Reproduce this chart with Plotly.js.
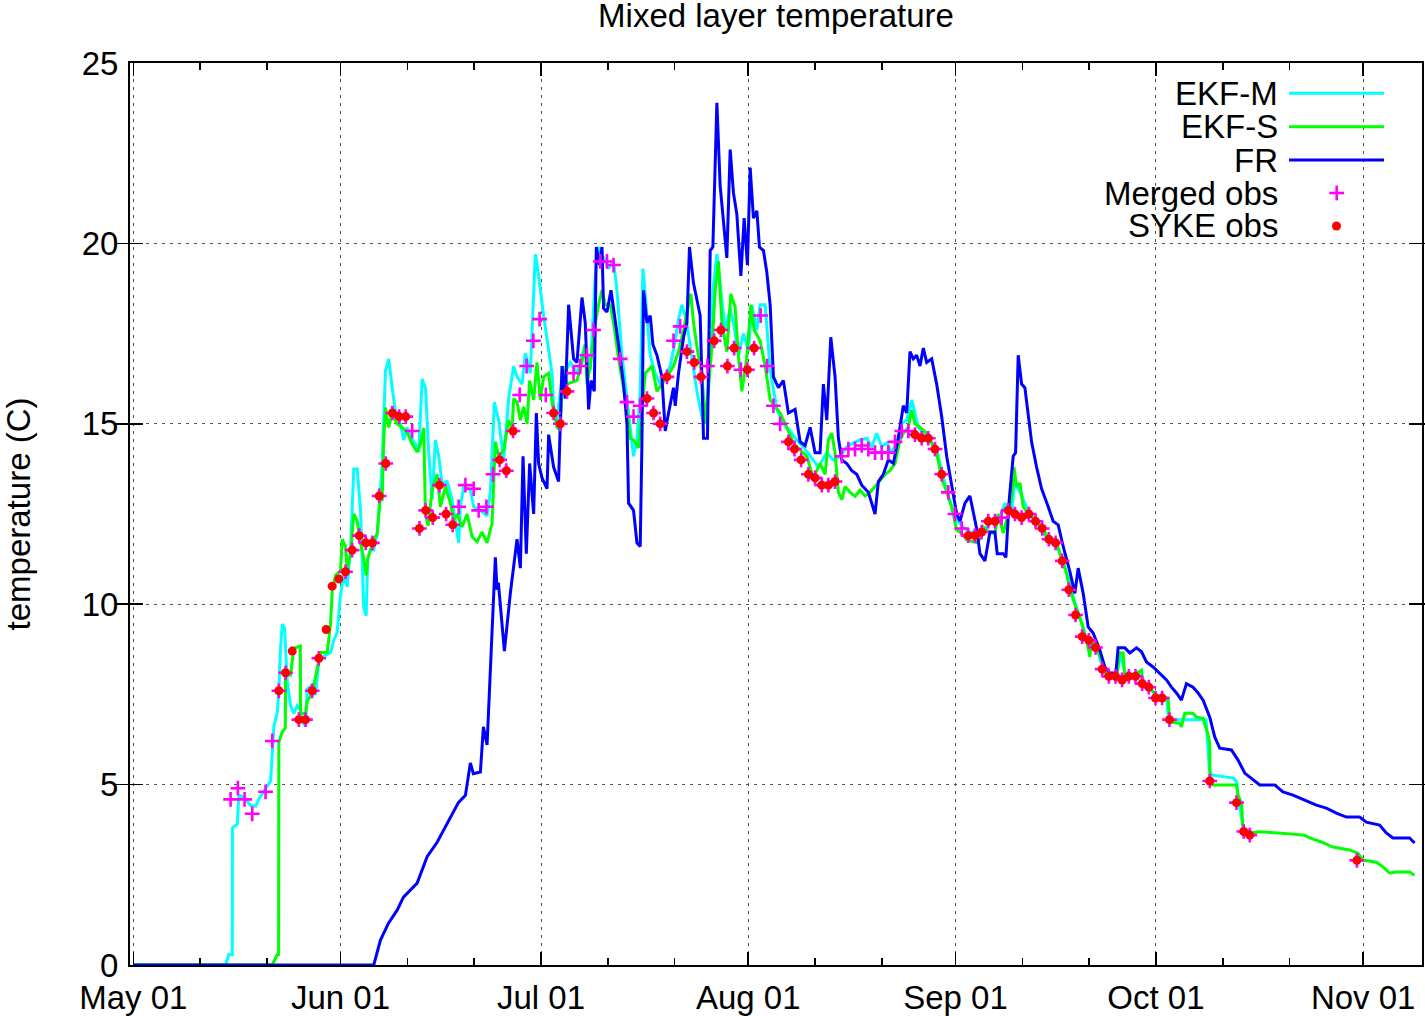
<!DOCTYPE html>
<html>
<head>
<meta charset="utf-8">
<script src="https://cdn.plot.ly/plotly-3.0.1.min.js"></script>
<style>html,body{margin:0;padding:0;background:#fff;}#chart{width:1425px;height:1016px;}</style>
</head>
<body>
<div id="chart"></div>
<script>
// ---- data: day offsets from 2010-05-01 00:00 and temperatures (C) ----
const monthStarts = ['2010-05-01','2010-06-01','2010-07-01','2010-08-01','2010-09-01','2010-10-01','2010-11-01'];
const minorTickDays = ['11','21'];
const minorTickMonths = ['2010-05','2010-06','2010-07','2010-08','2010-09','2010-10'];

const frDay = [0,35.98,36.98,38.18,39.48,40.42,42.47,43.96,45.46,46.95,
48.64,49.69,50.43,50.88,51.93,52.38,52.93,53.57,54.17,54.42,
54.62,55.52,56.41,57.41,57.91,58.31,58.80,59.30,59.90,60.30,
60.64,61.15,61.90,62.14,62.88,63.63,64.14,64.63,65.13,65.87,
66.38,67.13,67.62,68.12,68.48,68.97,69.27,69.76,70.12,70.36,
70.87,71.47,71.96,72.60,73.35,73.86,74.10,74.84,75.35,75.84,
76.10,76.34,76.85,77.34,77.74,78.34,79.09,79.58,80.08,80.82,
81.08,81.57,82.32,82.83,83.21,83.81,84.81,85.31,85.90,86.31,
86.71,87.31,87.80,88.80,89.30,89.79,90.30,90.90,91.39,91.88,
92.29,92.78,93.29,93.68,94.28,94.78,95.28,95.77,96.52,97.26,
98.01,99.01,99.76,100.51,101.26,102.00,102.75,103.24,103.75,104.35,
104.99,105.49,106.0,106.74,107.49,108.24,108.98,109.97,110.97,111.47,
112.21,112.96,113.71,114.45,115.20,115.71,116.20,116.70,117.20,117.70,
118.19,118.70,119.45,120.19,120.94,121.69,122.44,123.18,123.68,124.42,
125.17,125.67,126.17,126.67,127.41,128.16,128.91,129.25,130.15,130.55,
131.05,131.64,132.0,132.39,132.90,133.39,134.39,135.14,135.89,136.88,
137.62,138.37,139.12,140.12,140.87,141.36,142.11,142.86,143.60,144.60,
145.35,146.10,147.0,147.34,148.34,149.09,150.09,150.84,151.58,152.57,
153.57,154.57,155.32,156.07,156.81,157.56,158.55,159.30,160.05,161.05,
161.79,162.54,164.29,165.28,166.28,167.52,168.52,170.76,172.0,173.50,
175.25,177.0,178.49,179.99,181.48,183.47,184.47,186.46,187.46,188.45,
190.94,191.69];
const frVal = [0,0,0.69,1.16,1.52,1.88,2.27,3.0,3.4,3.9,
4.5,4.7,5.6,5.3,5.35,6.6,6.1,8.8,11.3,10.4,
10.6,8.7,10.3,11.8,11.0,14.1,11.4,13.9,12.5,15.3,
13.9,13.5,13.2,14.7,13.8,13.4,16.6,15.7,18.3,16.8,
16.7,18.5,17.8,15.4,16.2,15.9,19.9,19.4,19.9,18.2,
18.1,18.7,18.1,17.2,16.1,15.0,12.8,12.6,11.7,11.6,
14.5,18.7,17.8,18.0,17.2,16.9,16.3,14.8,15.3,16.0,
15.5,16.4,17.4,17.8,19.9,18.9,18.0,14.6,14.6,19.8,
19.9,23.9,21.6,19.6,22.6,21.4,20.8,19.1,20.7,19.4,
22.1,20.7,20.9,19.9,19.8,19.2,18.3,16.3,16.0,16.2,
15.3,15.4,14.5,14.4,14.9,14.2,14.2,16.1,15.1,17.4,
16.3,14.6,14.0,13.9,13.7,13.6,13.3,13.1,12.5,13.4,
13.6,14.0,13.9,14.6,15.5,15.3,17.0,16.8,16.9,16.6,
17.1,16.7,16.8,16.1,15.2,14.1,13.3,12.5,12.3,12.8,
13.0,12.5,12.1,11.4,11.2,12.0,12.0,11.4,11.4,11.3,
12.9,14.1,14.2,16.9,16.1,16.0,14.5,13.8,13.2,12.7,
12.3,12.2,11.6,10.9,10.3,11.0,10.3,9.37,9.2,8.73,
8.26,8.09,8.09,8.79,8.79,8.65,8.79,8.68,8.4,8.26,
8.09,7.9,7.7,7.54,7.34,7.8,7.7,7.54,7.34,6.87,
6.32,6.01,5.96,5.68,5.32,5.13,4.99,4.99,4.8,4.71,
4.57,4.43,4.35,4.21,4.1,4.1,3.96,3.88,3.66,3.52,
3.52,3.38];

const ekfmDay = [0,13.81,14.3,14.81,14.83,15.56,15.8,16.55,17.55,18.3,
18.79,19.79,20.54,20.79,21.03,21.54,21.78,22.03,22.29,22.63,
23.03,23.53,24.02,24.53,25.02,25.28,25.77,26.02,26.77,27.26,
27.76,28.5,29.51,30.0,30.51,31.0,31.49,32.0,32.5,32.99,
33.5,33.99,34.48,34.84,35.08,35.49,35.98,36.49,37.23,37.73,
38.22,38.73,39.22,39.97,40.46,40.97,41.46,42.21,42.71,43.21,
43.71,44.2,44.71,45.2,45.7,46.2,46.95,47.7,48.68,48.94,
49.43,50.43,50.93,51.93,52.93,53.42,54.02,54.66,55.41,56.16,
56.91,57.41,58.16,58.65,59.4,60.15,60.64,61.39,62.14,62.65,
62.88,63.39,64.14,65.38,66.38,67.62,68.37,69.12,69.61,70.36,
71.11,71.85,72.36,73.11,73.6,74.1,74.84,75.35,75.84,76.25,
76.74,77.34,78.09,78.83,80.33,81.08,81.57,82.08,82.72,83.57,
84.32,85.07,85.56,86.05,86.71,87.31,87.91,88.55,89.3,89.79,
90.54,91.29,92.03,92.54,93.29,93.78,94.53,95.28,96.28,97.26,
98.27,99.27,100.25,101.26,102.5,103.75,104.74,105.74,106.74,107.73,
108.73,109.73,110.48,111.23,111.97,112.72,113.47,114.22,114.96,115.71,
116.46,116.95,117.44,118.19,119.19,120.19,120.94,121.69,122.44,123.18,
124.17,125.17,126.17,126.92,127.67,128.65,129.66,130.4,131.41,131.8,
132.4,133.4,134.4,135.4,136.4,137.4,138.4,139.4,140.1,140.9,
141.9,142.6,143.3,144.3,145.1,146.1,147.1,147.6,148.4,149.4,
150.6,151.4,152.4,153.4,154.6,154.9,160.5,161.0,161.3,164.6,
165.1,165.3,166.1,167.0];
const ekfmVal = [0,0,0.29,0.29,3.8,3.9,4.7,4.66,4.42,4.4,
4.6,4.9,5.1,5.83,6.62,7.0,7.65,8.78,9.45,9.34,
7.87,7.19,6.97,7.19,7.08,6.74,6.62,7.65,7.76,7.48,
8.44,8.55,8.66,9.0,9.23,10.25,10.8,10.48,11.5,13.75,
13.75,12.62,9.9,9.68,11.26,11.5,11.5,11.95,13.87,16.47,
16.8,16.0,15.34,15.0,14.55,14.9,14.66,14.44,14.22,16.24,
16.0,14.2,12.9,14.55,14.1,13.35,13.4,12.9,11.7,12.7,
13.26,13.17,12.7,12.6,12.45,13.1,15.6,15.1,14.0,15.7,
16.6,16.3,16.1,16.96,16.4,19.7,19.1,18.0,17.1,16.4,
15.5,15.1,16.3,16.7,16.4,17.2,16.5,19.1,19.9,19.6,
19.3,19.5,18.7,16.9,16.1,15.4,14.1,14.55,15.9,19.3,
18.3,16.9,16.4,16.1,16.6,17.3,17.9,18.3,17.9,16.8,
15.9,15.2,15.0,15.9,18.7,19.7,18.7,17.6,18.2,17.8,
16.9,17.5,17.0,18.3,17.6,18.3,18.3,16.5,15.4,15.0,
14.8,14.55,14.36,14.1,13.8,14.2,14.0,14.1,14.36,14.47,
14.55,14.6,14.36,14.74,14.36,14.47,14.19,14.47,15.0,15.1,
15.66,15.3,14.9,14.74,14.55,14.27,13.7,13.16,12.7,12.33,
12.14,11.97,12.06,11.97,12.14,12.33,12.4,12.8,12.5,13.3,
13.2,12.8,12.4,12.2,11.9,11.7,11.5,11.0,10.6,10.0,
9.5,9.0,8.9,8.7,8.2,8.0,8.0,8.6,8.1,8.05,
8.1,7.8,7.6,7.45,7.4,6.8,6.8,5.4,5.27,5.18,
5.07,4.57,3.8,3.66];

const ekfsDay = [0,20.79,21.54,21.74,21.78,22.29,22.75,22.78,23.53,24.02,
24.99,25.02,25.77,26.02,26.77,27.01,27.76,28.01,29.01,29.51,
29.76,30.25,31.0,31.26,31.75,32.0,32.5,32.99,33.5,33.99,
34.48,34.84,35.08,35.49,35.98,36.49,36.98,37.23,37.47,37.73,
38.22,38.73,39.47,40.22,40.97,41.72,42.47,42.96,43.45,43.71,
44.11,44.71,45.46,45.95,46.7,47.44,47.94,48.45,49.19,49.94,
50.69,51.44,52.18,52.93,53.68,54.17,54.66,55.41,56.16,56.67,
56.91,57.41,57.91,58.4,58.91,59.3,59.9,60.4,60.9,61.39,
62.14,62.65,63.39,63.89,64.29,64.89,66.38,67.13,67.62,67.88,
68.37,69.12,69.61,70.12,70.61,71.36,71.85,72.6,73.35,73.86,
74.35,74.84,75.59,76.1,76.59,77.59,78.34,79.84,80.82,81.57,
82.32,83.07,83.42,83.81,84.56,85.07,85.56,86.56,87.06,87.55,
88.06,88.8,89.4,90.04,90.54,91.05,91.79,92.39,92.88,93.78,
94.53,95.28,96.77,97.77,98.76,99.76,100.76,101.75,102.75,103.5,
103.99,104.5,104.99,105.49,106.0,106.49,107.24,107.98,108.73,109.48,
110.23,110.97,112.47,113.21,113.96,114.71,115.2,115.95,116.46,116.95,
117.7,118.7,120.19,120.94,121.69,122.44,123.18,123.93,124.68,126.41,
127.16,128.16,128.91,129.4,130.15,130.9,131.41,131.76,132.15,132.65,
133.14,133.89,135.14,136.13,137.13,138.13,138.88,139.62,140.12,140.87,
141.87,142.62,143.11,143.36,144.11,144.86,145.35,146.1,147.1,147.59,
148.09,148.34,150.09,150.84,151.08,152.08,153.08,154.81,155.07,156.56,
156.81,157.31,158.55,159.05,160.05,160.8,161.05,161.08,161.54,165.04,
165.28,165.79,166.03,167.03,168.52,171.26,175.25,176.0,177.74,179.48,
181.97,183.21,183.96,185.96,186.95,187.95,188.95,190.94,191.69];
const ekfsVal = [0,0,0.29,0.29,6.18,6.46,6.57,8.04,8.04,8.78,
8.84,6.97,6.97,7.3,7.54,7.76,8.44,8.66,8.66,9.45,
10.36,10.8,10.92,11.8,11.6,11.0,11.38,12.5,12.3,11.7,
11.26,10.8,11.26,11.5,11.8,11.95,13.0,12.86,14.55,15.45,
14.9,15.3,15.0,14.9,14.77,14.44,14.22,14.44,14.88,12.5,
12.17,13.17,13.6,12.7,13.26,12.8,12.33,12.5,12.14,12.5,
11.87,11.73,12.0,11.7,12.25,14.5,14.1,14.27,15.1,14.83,
15.7,15.6,15.1,15.47,15.0,16.2,15.66,16.7,15.66,16.3,
16.4,15.6,14.9,14.83,16.6,16.1,16.2,16.7,17.2,16.1,
16.6,17.8,18.3,18.7,18.3,18.3,17.8,16.8,15.9,15.4,
14.6,14.55,14.33,15.47,16.4,16.6,15.9,16.3,16.6,17.0,
17.6,18.3,18.6,17.8,16.85,16.4,15.0,17.1,18.7,19.5,
17.8,17.0,18.6,18.24,16.85,15.9,16.85,18.3,17.6,17.3,
16.6,15.66,15.3,14.9,14.47,14.27,14.1,13.5,13.9,13.6,
14.55,14.74,14.19,13.1,12.9,13.26,13.1,12.99,13.16,13.0,
13.1,13.26,13.6,13.7,13.9,14.55,14.74,14.9,15.38,15.0,
14.9,14.74,14.19,13.5,13.1,12.7,12.06,11.97,11.78,11.7,
12.14,11.97,11.97,12.5,11.97,12.5,12.97,13.8,13.26,13.36,
12.7,12.5,12.33,12.06,11.78,11.7,11.3,10.86,10.4,10.03,
9.48,9.0,8.54,9.0,8.8,8.45,8.09,7.98,7.98,8.65,
8.65,7.98,8.09,8.17,7.8,7.7,7.43,7.4,6.74,6.7,
6.6,6.98,6.98,6.87,6.84,6.37,6.15,5.07,4.99,4.99,
4.71,4.49,3.74,3.66,3.69,3.66,3.6,3.52,3.41,3.27,
3.19,3.1,2.91,2.85,2.72,2.55,2.58,2.58,2.49];

const mergedDay = [14.56,15.65,16.65,17.80,19.79,20.79,21.78,22.78,24.77,25.77,
26.77,27.76,31.75,32.75,33.80,34.78,35.78,36.79,37.77,38.77,
39.78,40.76,41.72,42.81,43.75,44.80,45.80,46.80,47.79,48.68,
49.69,50.93,51.67,52.83,53.83,54.81,55.81,56.82,57.80,58.85,
59.85,60.79,61.72,62.88,63.89,64.89,65.87,66.88,67.88,68.86,
69.87,70.87,71.85,72.85,73.86,74.84,75.84,76.85,77.83,78.83,
79.84,80.82,81.82,82.83,83.92,84.92,85.90,86.91,87.91,88.89,
89.90,90.90,91.88,92.88,93.86,94.83,95.77,96.77,98.01,98.91,
99.91,101.0,102.0,103.0,103.99,104.99,106.0,106.98,107.98,108.98,
109.97,110.97,111.97,112.96,113.96,114.96,115.95,116.95,117.95,118.94,
119.94,120.94,121.93,122.93,123.93,124.92,125.92,126.92,127.91,128.91,
129.91,130.90,131.90,132.90,133.99,134.99,135.98,136.98,137.98,138.97,
139.97,140.97,141.96,142.96,143.96,144.95,145.95,146.95,147.94,148.94,
149.94,150.93,151.93,152.93,153.92,155.02,161.05,165.04,166.13,167.03,
183.06];
const mergedVal = [4.59,4.9,4.59,4.19,4.8,6.21,7.6,8.1,6.8,6.8,
7.6,8.5,10.9,11.5,11.9,11.7,11.7,13.0,13.9,15.3,
15.2,15.2,14.8,12.1,12.6,12.4,13.3,12.5,12.2,12.7,
13.3,13.2,12.6,12.7,13.6,14.0,13.7,14.8,15.8,16.6,
17.3,17.9,15.8,15.3,15.0,15.9,16.4,16.6,16.9,17.6,
19.5,19.5,19.4,16.8,15.6,15.2,15.5,15.7,15.3,15.0,
16.3,17.3,17.7,17.0,16.7,16.3,16.6,17.3,17.6,16.6,
17.1,16.5,16.5,17.1,18.0,16.6,15.5,15.0,14.5,14.3,
14.0,13.6,13.5,13.3,13.3,13.4,14.1,14.3,14.3,14.4,
14.3,14.2,14.2,14.2,14.5,14.8,14.8,14.7,14.6,14.6,
14.3,13.6,13.1,12.5,12.1,11.9,11.9,12.0,12.3,12.3,
12.4,12.6,12.5,12.4,12.5,12.3,12.1,11.8,11.7,11.2,
10.4,9.7,9.1,9.0,8.8,8.2,8.0,8.0,7.9,8.0,
8.0,7.8,7.7,7.4,7.4,6.8,5.1,4.5,3.7,3.6,
2.9];

const sykeDay = [21.78,22.78,23.78,24.77,25.77,26.77,27.76,28.86,29.76,30.75,
31.75,32.75,33.80,34.78,35.78,36.79,37.77,38.77,39.78,40.76,
42.81,43.75,44.80,45.80,46.80,47.79,54.81,55.81,56.82,62.88,
63.89,64.89,76.85,77.83,78.83,79.84,82.83,83.92,84.92,86.91,
87.91,88.89,89.90,91.88,92.88,98.01,98.91,99.91,101.0,102.0,
103.0,103.99,104.99,116.95,117.95,118.94,119.94,120.94,124.92,125.92,
126.92,127.91,128.91,130.90,131.90,132.90,133.99,134.99,135.98,136.98,
137.98,138.97,139.97,140.97,141.96,142.96,143.96,144.95,145.95,146.95,
147.94,148.94,149.94,150.93,151.93,152.93,153.92,155.02,161.05,165.04,
166.13,167.03,183.06];
const sykeVal = [7.6,8.1,8.7,6.8,6.8,7.6,8.5,9.3,10.5,10.7,
10.9,11.5,11.9,11.7,11.7,13.0,13.9,15.3,15.2,15.2,
12.1,12.6,12.4,13.3,12.5,12.2,14.0,13.7,14.8,15.3,
15.0,15.9,15.7,15.3,15.0,16.3,17.0,16.7,16.3,17.3,
17.6,16.6,17.1,16.5,17.1,14.5,14.3,14.0,13.6,13.5,
13.3,13.3,13.4,14.7,14.6,14.6,14.3,13.6,11.9,11.9,
12.0,12.3,12.3,12.6,12.5,12.4,12.5,12.3,12.1,11.8,
11.7,11.2,10.4,9.7,9.1,9.0,8.8,8.2,8.0,8.0,
7.9,8.0,8.0,7.8,7.7,7.4,7.4,6.8,5.1,4.5,
3.7,3.6,2.9];

const seriesNames = ['EKF-M','EKF-S','FR','Merged obs','SYKE obs'];
const seriesColors = ['#00ffff','#00ff00','#0000ff','#ff00ff','#ff0000'];

// ---- build ----
const T0 = Date.UTC(2010, 4, 1);
const DAY = 86400000;
const toX = arr => arr.map(d => T0 + d * DAY);
const xStart = T0 - 0.49 * DAY;
const xEnd = T0 + 192.8 * DAY;
const FONT = 'Liberation Sans, Arial, Helvetica, sans-serif';
const FS = 33;

const minorTicks = [];
minorTickMonths.forEach(m => minorTickDays.forEach(d => minorTicks.push(m + '-' + d)));

const traces = [
  {x: toX(ekfmDay), y: ekfmVal, name: seriesNames[0], mode: 'lines', line: {color: seriesColors[0], width: 3}},
  {x: toX(ekfsDay), y: ekfsVal, name: seriesNames[1], mode: 'lines', line: {color: seriesColors[1], width: 3}},
  {x: toX(frDay), y: frVal, name: seriesNames[2], mode: 'lines', line: {color: seriesColors[2], width: 3}},
  {x: toX(mergedDay), y: mergedVal, name: seriesNames[3], mode: 'markers',
   marker: {symbol: 'cross-thin', size: 10.5, color: seriesColors[3], line: {color: seriesColors[3], width: 2.6}}},
  {x: toX(sykeDay), y: sykeVal, name: seriesNames[4], mode: 'markers',
   marker: {symbol: 'circle', size: 9, color: seriesColors[4], line: {width: 0}}},
  {x: [T0], y: [-10], xaxis: 'x2', yaxis: 'y', mode: 'markers', marker: {opacity: 0}, hoverinfo: 'skip', showlegend: false}
];
traces.forEach(t => { if (t.showlegend === undefined) t.showlegend = false; });

// legend drawn gnuplot-style (text left, sample right), placed in pixel terms of the page
const ML = 130, MR = 3, MT = 63, MB = 51, W = 1425 - ML - MR, H = 1016 - MT - MB;
const px = x => (x - ML) / W;
const py = y => (1016 - MB - y) / H;
const rowY = [93.3, 126.7, 160, 193, 226];
const annotations = [];
const shapes = [];
seriesNames.forEach((n, i) => {
  annotations.push({text: n, xref: 'paper', yref: 'paper', x: px(1280), y: py(rowY[i]), xanchor: 'right', yanchor: 'middle',
    showarrow: false, font: {family: FONT, size: FS, color: '#000'}});
});
for (let i = 0; i < 3; i++) {
  shapes.push({type: 'line', xref: 'paper', yref: 'paper', x0: px(1289), x1: px(1384), y0: py(rowY[i]), y1: py(rowY[i]),
    line: {color: seriesColors[i], width: 3}});
}
shapes.push({type: 'line', xref: 'paper', yref: 'paper', x0: px(1329.3), x1: px(1344.1), y0: py(rowY[3]), y1: py(rowY[3]), line: {color: seriesColors[3], width: 2.6}});
shapes.push({type: 'line', xref: 'paper', yref: 'paper', x0: px(1336.7), x1: px(1336.7), y0: py(rowY[3] - 7.4), y1: py(rowY[3] + 7.4), line: {color: seriesColors[3], width: 2.6}});
shapes.push({type: 'circle', xref: 'paper', yref: 'paper', x0: px(1332), x1: px(1341), y0: py(rowY[4] - 4.5), y1: py(rowY[4] + 4.5),
  fillcolor: seriesColors[4], line: {width: 0}});

const gridStyle = {showgrid: true, gridcolor: '#505050', gridwidth: 1, griddash: '3px,5px'};

const layout = {
  width: 1425, height: 1016,
  margin: {l: ML, r: MR, t: MT, b: MB, pad: 0},
  paper_bgcolor: '#fff', plot_bgcolor: '#fff',
  font: {family: FONT, size: FS, color: '#000'},
  showlegend: false,
  title: {text: 'Mixed layer temperature', font: {family: FONT, size: FS, color: '#000'},
          xref: 'paper', x: 0.5, xanchor: 'center', yref: 'container', y: 0.9962, yanchor: 'top', pad: {t: 0, b: 0}},
  xaxis: Object.assign({
    type: 'date', range: [xStart, xEnd], tickvals: monthStarts, tickformat: '%b %d',
    ticks: 'inside', ticklen: 13, tickwidth: 1.5, tickcolor: '#000',
    showline: true, linecolor: '#000', linewidth: 2, mirror: 'allticks', zeroline: false,
    tickfont: {family: FONT, size: FS, color: '#000'}, ticklabelstandoff: 2, fixedrange: true
  }, gridStyle),
  xaxis2: {
    type: 'date', overlaying: 'x', anchor: 'y', side: 'bottom', range: [xStart, xEnd], tickvals: minorTicks,
    ticks: 'inside', ticklen: 7, tickwidth: 1.5, tickcolor: '#000', showticklabels: false,
    showline: false, mirror: 'ticks', showgrid: false, zeroline: false, fixedrange: true
  },
  yaxis: Object.assign({
    range: [0, 25], tick0: 0, dtick: 5,
    ticks: 'inside', ticklen: 13, tickwidth: 1.5, tickcolor: '#000',
    showline: true, linecolor: '#000', linewidth: 2, mirror: 'allticks', zeroline: false,
    tickfont: {family: FONT, size: FS, color: '#000'}, ticklabelstandoff: 3, fixedrange: true,
    title: {text: 'temperature (C)', font: {family: FONT, size: FS, color: '#000'}, standoff: 55}
  }, gridStyle),
  annotations: annotations,
  shapes: shapes
};

Plotly.newPlot('chart', traces, layout, {displayModeBar: false, staticPlot: true});
</script>
</body>
</html>
